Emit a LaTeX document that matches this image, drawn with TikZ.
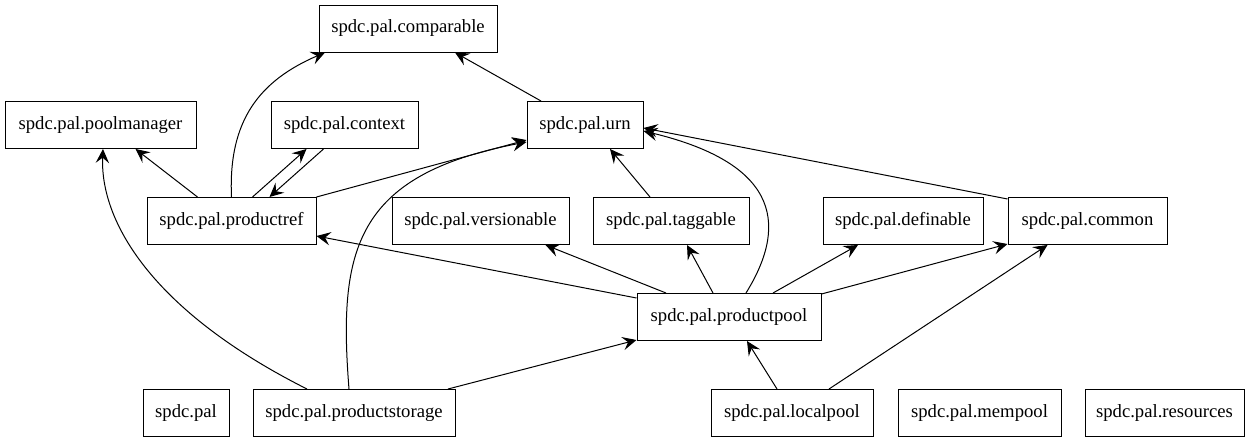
\documentclass[tikz,border=0pt]{standalone}
\usepackage{fontspec}
\newfontfamily\gvfont{Liberation Serif}
\usetikzlibrary{arrows.meta,calc}
\begin{document}
\begin{tikzpicture}[x=0.75pt,y=-0.75pt,
  box/.style={draw, line width=0.75pt, minimum height=47*0.75pt, inner sep=0pt,
    font=\gvfont\fontsize{14}{16}\selectfont},
  dep/.style={line width=0.75pt, -{Stealth[length=10.5pt,width=10pt,inset=4pt]}}]
\fill[white] (0,0) rectangle (1250,443);
\useasboundingbox (0,0) rectangle (1250,443);
% nodes
\node[box, minimum width=178*0.75pt] (comparable) at (408,28.5) {spdc.pal.comparable};
\node[box, minimum width=191*0.75pt] (poolmanager) at (100.5,125) {spdc.pal.poolmanager};
\node[box, minimum width=147*0.75pt] (context) at (344.5,125) {spdc.pal.context};
\node[box, minimum width=116*0.75pt] (urn) at (585,125) {spdc.pal.urn};
\node[box, minimum width=169*0.75pt] (productref) at (231.5,221) {spdc.pal.productref};
\node[box, minimum width=177*0.75pt] (versionable) at (480.5,221) {spdc.pal.versionable};
\node[box, minimum width=156*0.75pt] (taggable) at (671,221) {spdc.pal.taggable};
\node[box, minimum width=160*0.75pt] (definable) at (903,221) {spdc.pal.definable};
\node[box, minimum width=159*0.75pt] (common) at (1087.5,221) {spdc.pal.common};
\node[box, minimum width=184*0.75pt] (productpool) at (729,317) {spdc.pal.productpool};
\node[box, minimum width=86*0.75pt] (spdcpal) at (186,413) {spdc.pal};
\node[box, minimum width=202*0.75pt] (productstorage) at (354,413) {spdc.pal.productstorage};
\node[box, minimum width=162*0.75pt] (localpool) at (792,413) {spdc.pal.localpool};
\node[box, minimum width=163*0.75pt] (mempool) at (979.5,413) {spdc.pal.mempool};
\node[box, minimum width=159*0.75pt] (resources) at (1164.5,413) {spdc.pal.resources};
% edges
\draw[dep] ($(urn.north)+(-44,0)$) -- ($(comparable.south)+(47,0)$);
\draw[dep] (productref.north) .. controls +(-3.5,-77) and +(-65,28) .. ($(comparable.south)+(-83,0)$);
\draw[dep] ($(productref.north)+(-34,0)$) -- ($(poolmanager.south)+(35,0)$);
\draw[dep] ($(productref.north)+(21,0)$) -- ($(context.south)+(-38,0)$);
\draw[dep] ($(context.south)+(-21,0)$) -- ($(productref.north)+(38,0)$);
\draw[dep] (productref.north east) -- ($(urn.west)+(0,15)$);
\draw[dep] ($(productstorage.north)+(-5,0)$) .. controls +(-11,-139) and +(-172,33) .. ($(urn.west)+(0,17)$);
\draw[dep] ($(taggable.north)+(-21,0)$) -- ($(urn.south)+(25,0)$);
\draw[dep] ($(productpool.north)+(17,0)$) .. controls +(39,-63) and +(142,34) .. ($(urn.east)+(0,6)$);
\draw[dep] ($(common.north west)+(0,2)$) -- ($(urn.east)+(0,3)$);
\draw[dep] ($(productpool.west)+(0,-19)$) -- ($(productref.east)+(0,15)$);
\draw[dep] ($(productpool.north)+(-63,0)$) -- ($(versionable.south)+(65,0)$);
\draw[dep] ($(productpool.north)+(-16,0)$) -- ($(taggable.south)+(16,0)$);
\draw[dep] ($(productpool.north)+(44,0)$) -- ($(definable.south)+(-45,0)$);
\draw[dep] ($(productpool.north east)+(0,1)$) -- ($(common.south west)+(0,-1)$);
\draw[dep] ($(productstorage.north)+(94,0)$) -- ($(productpool.west)+(0,23)$);
\draw[dep] ($(productstorage.north)+(-47,0)$) .. controls +(-157,-79) and +(-3,71) .. ($(poolmanager.south)+(2.5,0)$);
\draw[dep] ($(localpool.north)+(-15,0)$) -- ($(productpool.south)+(18,0)$);
\draw[dep] ($(localpool.north)+(37,0)$) -- ($(common.south)+(-40,0)$);
\end{tikzpicture}
\end{document}
